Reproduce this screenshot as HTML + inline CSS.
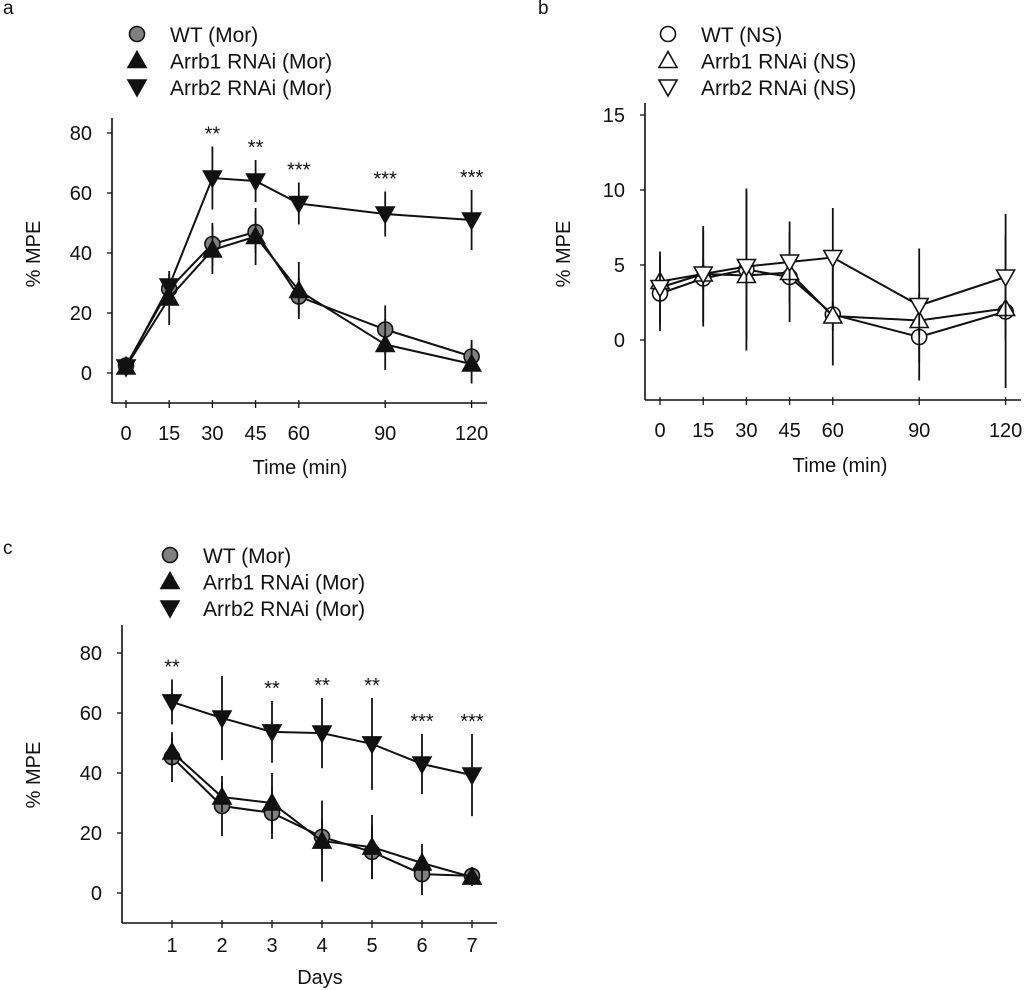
<!DOCTYPE html>
<html><head><meta charset="utf-8"><style>
body{margin:0;background:#fff}
svg{display:block;font-family:"Liberation Sans",Arial,sans-serif}
</style></head><body>
<svg id="c" width="1024" height="990" viewBox="0 0 1024 990" xmlns="http://www.w3.org/2000/svg"></svg>
<script>
// Panel a data
const aTimes=[0,15,30,45,60,90,120];
const aWT=[2.5,28,43,47,25.5,14.5,5.5];
const aWTerr=[3,4,7,7,6,8,5.5];
const aA1=[2,25,41,45.5,27.5,9.5,3];
const aA1err=[3,9,8,9.5,9.5,8.5,6.5];
const aA2=[2,29,65,64,56.5,53,51];
const aA2err=[3,4,10.5,7,7,7.5,10];
const aStars=["","","**","**","***","***","***"];
const aYTicks=[0,20,40,60,80];
// Panel b data
const bTimes=[0,15,30,45,60,90,120];
const bWT=[3.1,4.1,4.7,4.2,1.7,0.2,1.9];
const bWTerr=[2.5,3.2,5.4,3,3.4,2.9,5.1];
const bA1=[3.9,4.4,4.3,4.5,1.6,1.3,2.1];
const bA1err=[1,1,1,1,1,1,1];
const bA2=[3.5,4.4,4.9,5.2,5.5,2.3,4.2];
const bA2err=[2.4,3.2,4.9,2.7,3.3,3.8,4.2];
const bYTicks=[0,5,10,15];
// Panel c data
const cDays=[1,2,3,4,5,6,7];
const cWT=[45.3,29,26.7,18.7,13.7,6.3,5.7];
const cWTerr=[8.3,10,8.7,6,9,7,3];
const cA1=[47,32,30,17.3,15.3,10,5.3];
const cA1err=[5,5,10,13.5,10.7,6.3,3];
const cA2=[63.7,58.3,53.7,53.3,49.7,43,39.3];
const cA2err=[7.5,14,10.3,11.7,15.3,10,13.7];
const cStars=["**","","**","**","**","***","***"];
const cYTicks=[0,20,40,60,80];

const svg=document.getElementById('c');
const NS='http://www.w3.org/2000/svg';
function mk(tag,attrs,parent){const e=document.createElementNS(NS,tag);for(const k in attrs)e.setAttribute(k,attrs[k]);(parent||svg).appendChild(e);return e;}
function txt(s,x,y,size,anchor,parent){const t=mk('text',{x:x,y:y,'font-size':size,'text-anchor':anchor||'middle',fill:'#111'},parent);t.textContent=s;return t;}

function marker(g,type,x,y,fill){
  let e;
  if(type==='circle'){e=mk('circle',{cx:x,cy:y,r:7.5,fill:fill,stroke:'#111','stroke-width':1.6},g);}
  else if(type==='up'){e=mk('polygon',{points:`${x},${y-9} ${x+9},${y+7} ${x-9},${y+7}`,fill:fill,stroke:'#111','stroke-width':1.6},g);}
  else {e=mk('polygon',{points:`${x-9},${y-7} ${x+9},${y-7} ${x},${y+9}`,fill:fill,stroke:'#111','stroke-width':1.6},g);}
  return e;
}

function panel(o){
  const g=mk('g',{});
  
  
  const xs=v=>o.x0+(v-o.xmin)*o.xk;
  const ys=v=>o.y0-v*o.yk;
  const ya=mk('line',{x1:o.ax,y1:o.top,x2:o.ax,y2:o.bot,stroke:'#111','stroke-width':1.6},g);
  
  const xa=mk('line',{x1:o.ax,y1:o.bot,x2:o.right,y2:o.bot,stroke:'#111','stroke-width':1.6},g);
  
  o.yticks.forEach(v=>{
    mk('line',{x1:o.ax-5,y1:ys(v),x2:o.ax,y2:ys(v),stroke:'#111','stroke-width':1.3},g);
    const t=txt(String(v),o.ax-20,ys(v)+7,20,'end',g);
    
  });
  o.xs.forEach(v=>{
    mk('line',{x1:xs(v),y1:o.bot-3,x2:xs(v),y2:o.bot+5,stroke:'#111','stroke-width':1.3},g);
    const t=txt(String(v),xs(v),o.bot+o.tickOff,20,'middle',g);
    
  });
  const xt=txt(o.xtitle,o.xtx,o.bot+o.titleOff,20,'middle',g);
  
  const yt=txt('% MPE',0,0,20,'middle',g);
  yt.setAttribute('transform',`translate(${o.ytx},${o.yty}) rotate(-90)`);
  
  o.series.forEach(s=>{
    const sg=mk('g',{},g);
    
    
    s.vals.forEach((v,i)=>{
      const e=s.err[i];
      const l=mk('line',{x1:xs(o.xs[i]),y1:ys(v+e),x2:xs(o.xs[i]),y2:ys(v-e),stroke:'#111','stroke-width':1.8},sg);
      
    });
    const pts=s.vals.map((v,i)=>xs(o.xs[i])+','+ys(v)).join(' ');
    const pl=mk('polyline',{points:pts,fill:'none',stroke:'#111','stroke-width':2},sg);
    
    s.vals.forEach((v,i)=>{
      const m=marker(sg,s.type,xs(o.xs[i]),ys(v),s.fill);
      
    });
  });
  if(o.stars){
    o.stars.forEach((s,i)=>{
      if(!s)return;
      const top=Math.max(...o.series.map(se=>se.vals[i]+se.err[i]));
      const t=txt(s,xs(o.xs[i]),ys(top)-6,20,'middle',g);
      
    });
  }
  o.series.forEach((s,i)=>{
    const ly=o.ly+i*26.5;
    const lg=mk('g',{},svg);
    
    
    marker(lg,s.type,o.lx,ly,s.fill);
    txt(s.label,o.lx+33,ly+8,21,'start',lg);
  });
  const pl=txt(o.letter,3,o.letterY,19,'start');
  
  if(o.letterX!==undefined)pl.setAttribute('x',o.letterX);
}

panel({name:'panel-a',xs:aTimes,xmin:0,x0:126,xk:2.88,y0:373,yk:3,ax:112,top:118,bot:403,right:487,
  yticks:aYTicks,xtitle:'Time (min)',xtx:300,ytx:40,yty:254,stars:aStars,lx:137,ly:34,letter:'a',letterY:14,
  tickOff:37,titleOff:71,
  series:[
    {name:'series-wt-mor',label:'WT (Mor)',type:'circle',fill:'#808080',vals:aWT,err:aWTerr},
    {name:'series-arrb1-mor',label:'Arrb1 RNAi (Mor)',type:'up',fill:'#111',vals:aA1,err:aA1err},
    {name:'series-arrb2-mor',label:'Arrb2 RNAi (Mor)',type:'down',fill:'#111',vals:aA2,err:aA2err}]});

panel({name:'panel-b',xs:bTimes,xmin:0,x0:660,xk:2.88,y0:340,yk:15,ax:645,top:103,bot:400,right:1021,
  yticks:bYTicks,xtitle:'Time (min)',xtx:840,ytx:570,yty:254,stars:null,lx:668,ly:34,letter:'b',letterY:14,letterX:538,
  tickOff:37,titleOff:72,
  series:[
    {name:'series-wt-ns',label:'WT (NS)',type:'circle',fill:'#fff',vals:bWT,err:bWTerr},
    {name:'series-arrb1-ns',label:'Arrb1 RNAi (NS)',type:'up',fill:'#fff',vals:bA1,err:bA1err},
    {name:'series-arrb2-ns',label:'Arrb2 RNAi (NS)',type:'down',fill:'#fff',vals:bA2,err:bA2err}]});

panel({name:'panel-c',xs:cDays,xmin:1,x0:172,xk:50,y0:893,yk:3,ax:122,top:625,bot:923,right:497,
  yticks:cYTicks,xtitle:'Days',xtx:320,ytx:40,yty:775,stars:cStars,lx:170,ly:555,letter:'c',letterY:554,
  tickOff:29,titleOff:61,
  series:[
    {name:'series-wt-mor-days',label:'WT (Mor)',type:'circle',fill:'#808080',vals:cWT,err:cWTerr},
    {name:'series-arrb1-mor-days',label:'Arrb1 RNAi (Mor)',type:'up',fill:'#111',vals:cA1,err:cA1err},
    {name:'series-arrb2-mor-days',label:'Arrb2 RNAi (Mor)',type:'down',fill:'#111',vals:cA2,err:cA2err}]});
</script>
</body></html>
